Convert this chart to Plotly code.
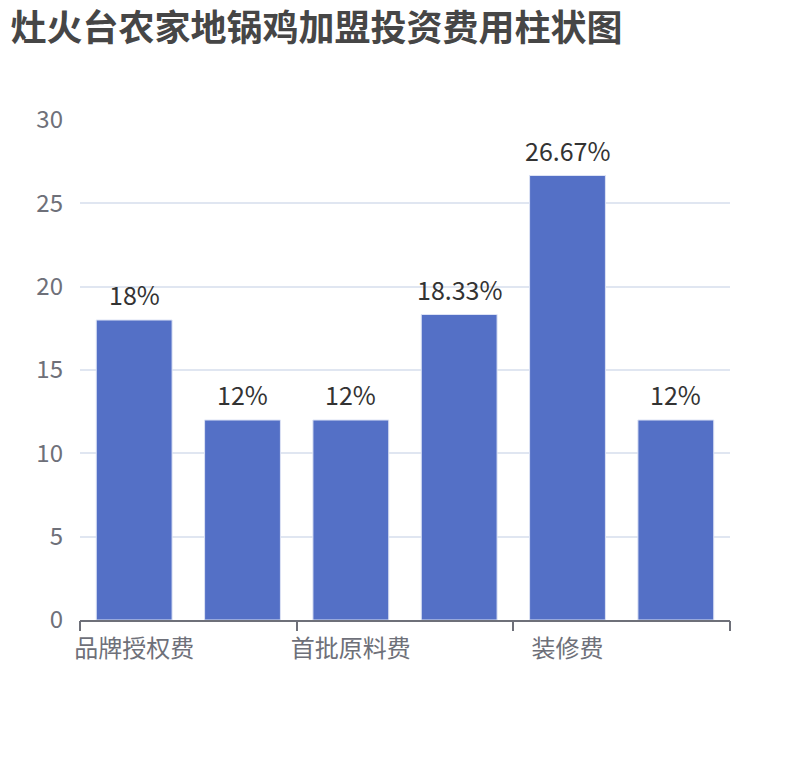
import plotly.graph_objects as go

# 费用类别（仅部分标签在轴上显示）
categories = ["品牌授权费", "设备费", "首批原料费", "店面租金", "装修费", "流动资金"]
values = [18, 12, 12, 18.33, 26.67, 12]
labels = ["18%", "12%", "12%", "18.33%", "26.67%", "12%"]
shown_ticks = ["品牌授权费", "首批原料费", "装修费"]
y_ticks = [0, 5, 10, 15, 20, 25, 30]

FONT = "Noto Sans CJK SC"
AXIS_GREY = "#6E7079"

fig = go.Figure()
fig.add_trace(
    go.Bar(
        x=categories,
        y=values,
        width=0.7,
        marker=dict(color="#5470C6", line=dict(color="#DDE3F5", width=1)),
        showlegend=False,
    )
)

# value labels above the bars
for cat, val, lab in zip(categories, values, labels):
    fig.add_annotation(
        x=cat, y=val, text=lab, showarrow=False,
        yanchor="bottom", yshift=6,
        font=dict(size=25, color="#333333", family=FONT),
    )

# invisible helper trace so the second x axis (tick marks at category boundaries) is drawn
fig.add_trace(
    go.Scatter(x=[-0.5, 5.5], y=[0, 0], xaxis="x2", mode="lines",
               line=dict(width=0), hoverinfo="skip", showlegend=False)
)

fig.update_layout(
    width=810,
    height=760,
    margin=dict(l=72, r=88, t=112, b=148),
    plot_bgcolor="white",
    paper_bgcolor="white",
    font=dict(family=FONT),
    title=dict(
        text="<b>灶火台农家地锅鸡加盟投资费用柱状图</b>",
        x=0.003, xanchor="left", y=0.99, yanchor="top",
        font=dict(size=36, color="#464646", family=FONT),
    ),
    xaxis=dict(
        type="category",
        categoryorder="array",
        categoryarray=categories,
        range=[-0.5, 5.5],
        tickvals=shown_ticks,
        ticktext=shown_ticks,
        ticks="",
        showline=True,
        linecolor=AXIS_GREY,
        linewidth=2,
        showgrid=False,
        ticklabelstandoff=6,
        tickfont=dict(size=24, color=AXIS_GREY, family=FONT),
    ),
    xaxis2=dict(
        overlaying="x",
        side="bottom",
        anchor="y",
        range=[-0.5, 5.5],
        tickvals=[-0.5, 1.5, 3.5, 5.5],
        ticks="outside",
        ticklen=10,
        tickwidth=2,
        tickcolor=AXIS_GREY,
        showticklabels=False,
        showgrid=False,
        zeroline=False,
        showline=False,
    ),
    yaxis=dict(
        range=[0, 30],
        tickvals=y_ticks,
        showgrid=True,
        gridcolor="#E0E6F1",
        gridwidth=1.5,
        zeroline=False,
        showline=False,
        ticks="",
        ticklabelstandoff=16,
        tickfont=dict(size=24, color=AXIS_GREY, family=FONT),
    ),
    bargap=0.3,
)

fig.write_html("out.html")
